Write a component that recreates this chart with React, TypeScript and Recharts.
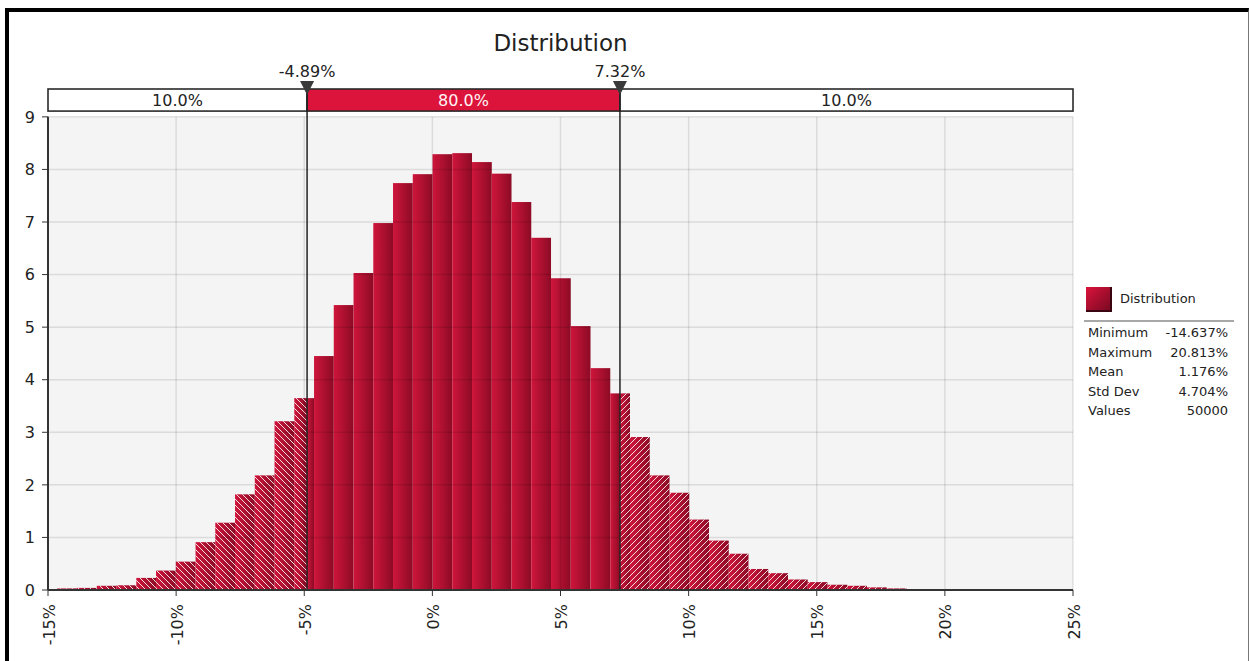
import React from 'react';
import { ComposedChart, Line, XAxis, YAxis, ReferenceArea, ReferenceLine } from 'recharts';

const FONT = '"DejaVu Sans", Verdana, sans-serif';

// histogram: 46 equal bins between the min and the max (values in %)
const binEdges = [
  -14.637, -13.866, -13.096, -12.325, -11.554, -10.784, -10.013, -9.242, -8.472, -7.701,
  -6.93, -6.16, -5.389, -4.618, -3.848, -3.077, -2.306, -1.536, -0.765, 0.006,
  0.776, 1.547, 2.318, 3.088, 3.859, 4.63, 5.4, 6.171, 6.942, 7.712,
  8.483, 9.254, 10.024, 10.795, 11.566, 12.336, 13.107, 13.878, 14.648, 15.419,
  16.19, 16.96, 17.731, 18.502, 19.272, 20.043, 20.813,
];
const density = [
  0.03, 0.04, 0.08, 0.09, 0.23, 0.37, 0.54, 0.91, 1.28, 1.82,
  2.18, 3.21, 3.65, 4.45, 5.42, 6.03, 6.98, 7.74, 7.91, 8.29,
  8.31, 8.14, 7.92, 7.38, 6.7, 5.93, 5.02, 4.22, 3.74, 2.91,
  2.18, 1.85, 1.34, 0.94, 0.69, 0.4, 0.32, 0.2, 0.15, 0.1,
  0.08, 0.05, 0.03, 0.01, 0.01, 0.005,
];

const xTicks = [-15, -10, -5, 0, 5, 10, 15, 20, 25];
const yTicks = [0, 1, 2, 3, 4, 5, 6, 7, 8, 9];

const markers = [-4.89, 7.32];
const markerLabels = ['-4.89%', '7.32%'];
const bandLabels = ['10.0%', '80.0%', '10.0%'];

const statLabels = ['Minimum', 'Maximum', 'Mean', 'Std Dev', 'Values'];
const statValues = ['-14.637%', '20.813%', '1.176%', '4.704%', '50000'];

const X_MIN = -15;
const X_MAX = 25;
const Y_TOP = 9.53; // room above the 9 line for the percentile band
const BAND_LO = 9.11;

const rows = density.map((h, i) => ({ mid: (binEdges[i] + binEdges[i + 1]) / 2, h }));

type Zone = 'left' | 'mid' | 'right';
const pieces: { lo: number; hi: number; h: number; zone: Zone }[] = [];
density.forEach((h, i) => {
  const a = binEdges[i];
  const b = binEdges[i + 1];
  const cuts = [a, ...markers.filter((m) => m > a && m < b), b];
  for (let j = 0; j < cuts.length - 1; j++) {
    const m = (cuts[j] + cuts[j + 1]) / 2;
    const zone: Zone = m < markers[0] ? 'left' : m > markers[1] ? 'right' : 'mid';
    pieces.push({ lo: cuts[j], hi: cuts[j + 1], h, zone });
  }
});

const bandEdges = [X_MIN, markers[0], markers[1], X_MAX];

const BarPiece = (props: any) => {
  const { x, y, width, height, zone } = props;
  return (
    <g>
      <rect x={x} y={y} width={width} height={height} fill="url(#barGrad)" />
      {zone !== 'mid' && (
        <rect x={x} y={y} width={width} height={height} fill={zone === 'left' ? 'url(#hatchL)' : 'url(#hatchR)'} />
      )}
    </g>
  );
};

const BandPiece = (props: any) => {
  const { x, y, width, height, text, mid } = props;
  return (
    <g>
      <rect x={x} y={y} width={width} height={height} fill={mid ? '#dc143c' : '#ffffff'} stroke="#2a2a2a" strokeWidth={1.6} />
      <text x={x + width / 2} y={y + height / 2} dy="0.36em" textAnchor="middle" fontSize={16} fontFamily={FONT} fill={mid ? '#fff4f4' : '#222'}>
        {text}
      </text>
    </g>
  );
};

const MarkerLabel = (props: any) => {
  const vb = props.viewBox || {};
  const x = vb.x;
  const y = vb.y;
  if (x == null || y == null) return null;
  return (
    <g>
      <path d={`M${x - 7},${y - 8} L${x + 7},${y - 8} L${x},${y + 6} Z`} fill="#3a3a3a" />
      <text x={x} y={y - 12} textAnchor="middle" fontSize={16} fontFamily={FONT} fill="#222">
        {props.text}
      </text>
    </g>
  );
};

const XTick = (props: any) => {
  const { x, y, payload } = props;
  const tx = x + 1;
  const ty = y + 6;
  return (
    <text x={tx} y={ty} dy="0.35em" transform={`rotate(-90, ${tx}, ${ty})`} textAnchor="end" fontSize={16} fontFamily={FONT} fill="#222">
      {`${payload.value}%`}
    </text>
  );
};

export default function App() {
  return (
    <div style={{ position: 'absolute', left: 0, top: 0, width: 1249, height: 661, background: '#fff', overflow: 'hidden', fontFamily: FONT }}>
      <div style={{ position: 'absolute', left: 5, top: 8, width: 1244, height: 653, boxSizing: 'border-box', borderTop: '4px solid #000', borderLeft: '4px solid #000', borderRight: '1px solid #777' }} />

      <div style={{ position: 'absolute', left: 48, width: 1025, top: 30, textAlign: 'center', fontSize: 23, color: '#222' }}>
        Distribution
      </div>

      <div style={{ position: 'absolute', left: 0, top: 0 }}>
        <ComposedChart width={1249} height={661} data={rows} margin={{ top: 89, right: 176, bottom: 11, left: 8 }}>
          <defs>
            <linearGradient id="barGrad" x1="0" y1="0" x2="1" y2="0">
              <stop offset="0%" stopColor="#cf153b" />
              <stop offset="100%" stopColor="#8c0b25" />
            </linearGradient>
            <pattern id="hatchL" patternUnits="userSpaceOnUse" width="6" height="6">
              <path d="M-1,-1 L7,7 M-1,5 L1,7 M5,-1 L7,1" stroke="#ffffff" strokeWidth="1" strokeOpacity="0.85" />
            </pattern>
            <pattern id="hatchR" patternUnits="userSpaceOnUse" width="6" height="6">
              <path d="M-1,7 L7,-1 M-1,1 L1,-1 M5,7 L7,5" stroke="#ffffff" strokeWidth="1" strokeOpacity="0.85" />
            </pattern>
          </defs>

          <ReferenceArea x1={X_MIN} x2={X_MAX} y1={0} y2={9} fill="#f4f4f4" fillOpacity={1} ifOverflow="visible" />

          {pieces.map((p, i) => (
            <ReferenceArea
              key={`bar-${i}`}
              x1={p.lo}
              x2={p.hi}
              y1={0}
              y2={p.h}
              ifOverflow="visible"
              shape={(sp: any) => <BarPiece {...sp} zone={p.zone} />}
            />
          ))}

          {yTicks.slice(1).map((v) => (
            <ReferenceLine key={`gy-${v}`} segment={[{ x: X_MIN, y: v }, { x: X_MAX, y: v }]} stroke="rgba(0,0,0,0.1)" strokeWidth={1.5} ifOverflow="visible" />
          ))}
          {xTicks.slice(1).map((v) => (
            <ReferenceLine key={`gx-${v}`} segment={[{ x: v, y: 0 }, { x: v, y: 9 }]} stroke="rgba(0,0,0,0.1)" strokeWidth={1.5} ifOverflow="visible" />
          ))}

          {bandLabels.map((t, i) => (
            <ReferenceArea
              key={`band-${i}`}
              x1={bandEdges[i]}
              x2={bandEdges[i + 1]}
              y1={BAND_LO}
              y2={Y_TOP}
              ifOverflow="visible"
              shape={(sp: any) => <BandPiece {...sp} text={t} mid={i === 1} />}
            />
          ))}

          <ReferenceLine segment={[{ x: X_MIN, y: 0 }, { x: X_MIN, y: 9 }]} stroke="#333" strokeWidth={2} ifOverflow="visible" />

          {markers.map((m, i) => (
            <ReferenceLine key={`mk-${i}`} x={m} stroke="#222" strokeWidth={1.5} ifOverflow="visible" label={<MarkerLabel text={markerLabels[i]} />} />
          ))}

          <Line dataKey="h" stroke="none" dot={false} activeDot={false} isAnimationActive={false} legendType="none" />

          <XAxis
            dataKey="mid"
            type="number"
            domain={[X_MIN, X_MAX]}
            allowDataOverflow
            ticks={xTicks}
            interval={0}
            height={60}
            tickSize={6}
            axisLine={{ stroke: '#333', strokeWidth: 2 }}
            tickLine={{ stroke: '#333' }}
            tick={<XTick />}
          />
          <YAxis
            type="number"
            domain={[0, Y_TOP]}
            allowDataOverflow
            ticks={yTicks}
            interval={0}
            width={40}
            tickSize={6}
            tickMargin={7}
            axisLine={false}
            tickLine={{ stroke: '#333' }}
            tick={{ fontSize: 16, fill: '#222', fontFamily: FONT }}
          />
        </ComposedChart>
      </div>

      <div style={{ position: 'absolute', left: 1086, top: 287, width: 24, height: 23, background: 'linear-gradient(135deg, #dc143c 0%, #a00d2c 60%, #7c0a22 100%)', borderRight: '2px solid #3a0510', borderBottom: '2px solid #3a0510' }} />
      <div style={{ position: 'absolute', left: 1120, top: 290, fontSize: 13, color: '#222', lineHeight: '18px' }}>Distribution</div>
      <div style={{ position: 'absolute', left: 1084, top: 320, width: 150, height: 2, background: '#a8a8a8' }} />
      {statLabels.map((l, i) => (
        <div key={l} style={{ position: 'absolute', left: 1088, width: 140, top: 324 + i * 19.5, fontSize: 13, lineHeight: '18px', color: '#222', display: 'flex', justifyContent: 'space-between' }}>
          <span>{l}</span>
          <span>{statValues[i]}</span>
        </div>
      ))}
    </div>
  );
}
